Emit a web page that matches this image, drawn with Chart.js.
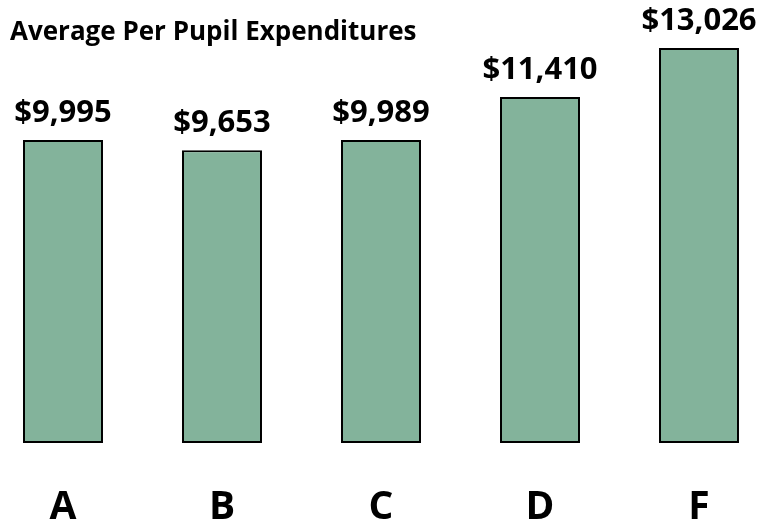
<!DOCTYPE html>
<html>
<head>
<meta charset="utf-8">
<style>
  html, body { margin: 0; padding: 0; background: #ffffff; }
  #wrap { width: 763px; height: 526px; }
</style>
<script src="https://cdn.jsdelivr.net/npm/chart.js@4/dist/chart.umd.min.js"></script>
</head>
<body>
<div id="wrap"><canvas id="c" width="763" height="526"></canvas></div>
<script>
const titleText = "Average Per Pupil Expenditures";
const categories = ["A", "B", "C", "D", "F"];
const expenditures = [9995, 9653, 9989, 11410, 13026];
const valueLabels = ["$9,995", "$9,653", "$9,989", "$11,410", "$13,026"];

const FONT = "'Open Sans', Lato, 'DejaVu Sans', sans-serif";

const valueLabelPlugin = {
  id: 'valueLabels',
  afterDatasetsDraw(chart) {
    const ctx = chart.ctx;
    const meta = chart.getDatasetMeta(0);
    ctx.save();
    ctx.font = "bold 31px " + FONT;
    ctx.fillStyle = "#000000";
    ctx.textAlign = "center";
    ctx.textBaseline = "alphabetic";
    meta.data.forEach((bar, i) => {
      ctx.fillText(valueLabels[i], bar.x, bar.y - 18);
    });
    ctx.restore();
  }
};

new Chart(document.getElementById('c'), {
  type: 'bar',
  data: {
    labels: categories,
    datasets: [{
      data: expenditures,
      backgroundColor: '#83B39B',
      borderColor: '#000000',
      borderWidth: 2,
      borderSkipped: false,
      barPercentage: 1,
      categoryPercentage: 0.503,
      clip: false
    }]
  },
  options: {
    responsive: false,
    animation: false,
    layout: { padding: { left: 10, right: 64, top: 0, bottom: 0 } },
    plugins: {
      legend: { display: false },
      tooltip: { enabled: false },
      title: {
        display: true,
        text: titleText,
        align: 'start',
        color: '#000000',
        font: { family: FONT, size: 26, weight: 'bold', lineHeight: 1.2 },
        padding: { top: 16.5, bottom: 0.3 }
      }
    },
    scales: {
      x: {
        offset: false,
        grid: { display: false, drawTicks: false },
        border: { display: false },
        ticks: {
          color: '#000000',
          font: { family: FONT, size: 39, weight: 'bold' },
          padding: 41,
          maxRotation: 0
        },
        afterFit(s) { s.height = 83; }
      },
      y: {
        min: 0,
        max: 13026,
        grid: { display: false, drawTicks: false },
        border: { display: false },
        ticks: { display: false },
        afterFit(s) { s.width = 53; }
      }
    }
  },
  plugins: [valueLabelPlugin]
});
</script>
</body>
</html>
